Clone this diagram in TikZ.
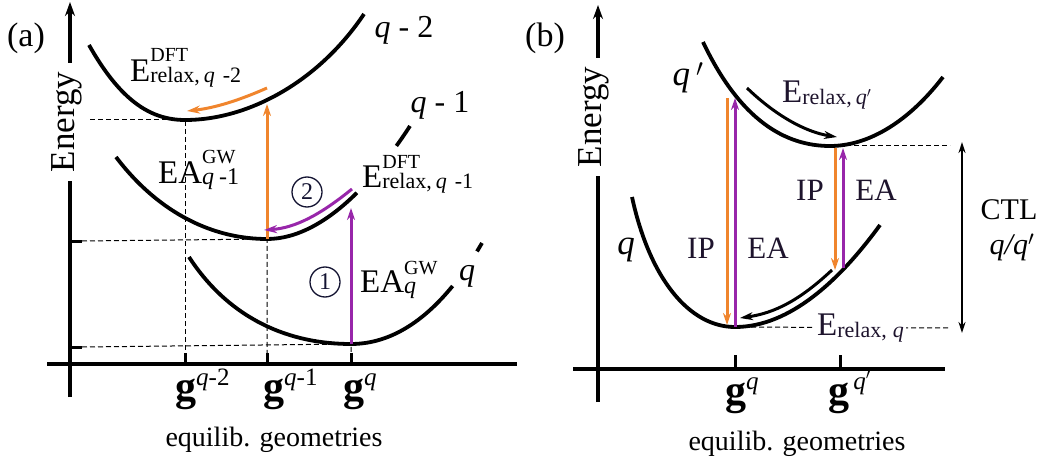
\documentclass[tikz,border=0pt]{standalone}
\usepackage{fontspec}
\setmainfont{Liberation Serif}
\usetikzlibrary{arrows.meta}
\definecolor{orng}{RGB}{240,133,45}
\definecolor{purp}{RGB}{152,38,170}
\definecolor{navy}{RGB}{20,20,50}
\definecolor{labc}{RGB}{30,20,45}
\newcommand\fs[1]{\fontsize{#1}{#1}\selectfont}
\begin{document}
\begin{tikzpicture}[x=1pt,y=-1pt,
 curve/.style={line width=3.8pt},
 axis/.style={line width=3.5pt},
 tickmark/.style={line width=3pt},
 guide/.style={line width=1pt, dash pattern=on 5pt off 3pt},
 vert/.style={line width=3pt, -{Stealth[length=12pt,width=8pt]}},
 relax/.style={line width=3pt, -{Stealth[length=13pt,width=8pt]}},
 lab/.style={inner sep=0pt, anchor=base west},
 axlab/.style={rotate=90, fill=white, inner xsep=9pt, inner ysep=1pt, font=\fs{35}},
 circ/.style={circle, draw=navy, line width=1.3pt, minimum size=30pt, inner sep=0pt, font=\fs{24}, text=navy}]
\useasboundingbox (0,0) rectangle (1051,465);

% ---------------- panel (a) ----------------
\coordinate (aYbot) at (70,397);
\coordinate (aYtop) at (70,2);
\coordinate (aXl) at (47,364);
\coordinate (aXr) at (517,364);
\coordinate (m2) at (185,120);
\coordinate (m1) at (267,239);
\coordinate (m0) at (351,344);

\draw[axis] (aXl) -- (aXr);
\draw[axis, -{Stealth[length=14pt,width=10pt]}] (aYbot) -- (aYtop);
\node[axlab] (enA) at (67,122) {Energy};

\draw[tickmark] (70,241) -- (82,241);
\draw[tickmark] (70,347) -- (82,347);
\draw[tickmark] (185,353) -- (185,364);
\draw[tickmark] (267,353) -- (267,364);
\draw[tickmark] (351,353) -- (351,364);

\draw[guide] (90,120) -- (m2) -- (185,353);
\draw[guide] (82,241) -- (m1) -- (267,353);
\draw[guide] (82,347) -- (m0) -- (351,353);

% curve q-2
\draw[curve] (89,45) .. controls (120,100) and (150,120) .. (m2) .. controls (250,120) and (320,80) .. (364,14);
% curve q-1 (interrupted by its label)
\draw[curve] (116,157) .. controls (160,215) and (215,239) .. (m1) .. controls (296.8,239) and (327.3,222.1) .. (356.9,192.8);
\draw[curve] (396.4,145.9) .. controls (401,139.6) and (405.5,132.9) .. (410,126);
% curve q (interrupted by its label)
\draw[curve] (189,257) .. controls (230,320) and (290,344) .. (m0) .. controls (384.9,344) and (419.4,326.8) .. (452.6,286.0);
\draw[curve] (477,251.4) .. controls (478.6,248.7) and (480.3,245.9) .. (482,243);

\draw[vert, orng] (m1) -- (267,104);
\draw[vert, purp] (m0) -- (351,208);
\draw[relax, orng] (267,88) .. controls (240,100) and (215,108) .. (187,111);
\draw[relax, purp] (352,189) .. controls (320,215) and (295,228) .. (264,230);

\node[circ] (c2) at (307,192) {2};
\node[circ] (c1) at (325,282) {1};

\node[lab] (lq2) at (130,82) {\fs{33}E\rlap{\raisebox{20pt}{\fs{20}DFT}}\raisebox{-1pt}{\fs{22}relax,\hspace{4pt}\textit{q}\hspace{8pt}-2}};
\node[lab] (lq1) at (362,188) {\fs{33}E\rlap{\raisebox{20pt}{\fs{20}DFT}}\raisebox{-1pt}{\fs{22}relax,\hspace{4pt}\textit{q}\hspace{8pt}-1}};
\node[lab] (eaq1) at (158,183) {\fs{33}EA\rlap{\raisebox{20pt}{\fs{20}GW}}\raisebox{-1pt}{\fs{24}\textit{q}\hspace{5pt}-1}};
\node[lab] (eaq0) at (360,292) {\fs{33}EA\rlap{\raisebox{18pt}{\fs{20}GW}}\raisebox{-1pt}{\fs{24}\textit{q}}};
\node[font=\fs{32}] (tq2) at (404,30) {\textit{q} - 2};
\node[font=\fs{32}] (tq1) at (440,105) {\textit{q} - 1};
\node[font=\fs{32}\itshape] (lq0) at (467,276) {q};

\node[lab] (g2) at (175,400) {{\fs{42}\bfseries g}\raisebox{15pt}{\fs{25}\textit{q}-2}};
\node[lab] (g1) at (263,400) {{\fs{42}\bfseries g}\raisebox{15pt}{\fs{25}\textit{q}-1}};
\node[lab] (g0) at (343,400) {{\fs{42}\bfseries g}\raisebox{15pt}{\fs{25}\textit{q}}};
\node[font=\fs{28}] (eqA) at (274,440) {equilib. geometries};
\node[font=\fs{34}] (pa) at (26,38) {(a)};

% ---------------- panel (b) ----------------
\coordinate (bYbot) at (598,402);
\coordinate (bYtop) at (598,5);
\coordinate (bXl) at (573,369);
\coordinate (bXr) at (945,369);
\coordinate (mqp) at (830,146);
\coordinate (mq) at (735,327);

\draw[axis] (bXl) -- (bXr);
\draw[axis, -{Stealth[length=14pt,width=10pt]}] (bYbot) -- (bYtop);
\node[axlab] (enB) at (594,117) {Energy};

\draw[tickmark] (735,355) -- (735,369);
\draw[tickmark] (840,355) -- (840,369);

\draw[curve] (703,42) .. controls (740,120) and (785,146) .. (mqp) .. controls (870,146) and (910,120) .. (943,77);
\draw[curve] (632,197) .. controls (650,280) and (690,327) .. (mq) .. controls (790,327) and (840,280) .. (880,225);

\draw[guide] (mqp) -- (950,146);
\draw[guide] (mq) -- (950,328);
\node[lab, fill=white, inner xsep=2pt, text=labc] (erq) at (815,335) {\fs{33}E\raisebox{-2pt}{\fs{22}relax,\hspace{6pt}\textit{q}}};

\draw[vert, orng] (727,98) -- (727,325);
\draw[vert, purp] (mq) -- (735,98);
\draw[vert, orng] (835,148) -- (835,270);
\draw[vert, purp] (843,268) -- (843,148);

\draw[relax, black] (747,88) .. controls (775,115) and (805,132) .. (837,137);
\draw[relax, black] (832,270) .. controls (800,300) and (775,313) .. (740,318);

\draw[line width=1.8pt, {Stealth[length=11pt,width=7pt]}-{Stealth[length=11pt,width=7pt]}] (962,142) -- (962,333);

\node[font=\fs{34}] (pb) at (545,38) {(b)};
\node[font=\fs{35}\itshape] (tqp) at (688,78) {q\,$'$};
\node[font=\fs{35}\itshape] (tq) at (626,250) {q};
\node[font=\fs{31}, text=labc] (ip1) at (701,248) {IP};
\node[font=\fs{31}, text=labc] (ea1) at (768,248) {EA};
\node[font=\fs{31}, text=labc] (ip2) at (810,190) {IP};
\node[font=\fs{31}, text=labc] (ea2) at (876,190) {EA};
\node[lab, text=labc] (erqp) at (782,103) {\fs{33}E\raisebox{-2pt}{\fs{22}relax,\hspace{4pt}\textit{q}$'$}};
\node[font=\fs{30}] (ctl) at (1009,210) {CTL};
\node[font=\fs{30}\itshape] (ctlq) at (1012,247) {q/q$'$};

\node[lab] (gq) at (725,404) {{\fs{42}\bfseries g}\raisebox{15pt}{\fs{25}\textit{q}}};
\node[lab] (gqp) at (828,404) {{\fs{42}\bfseries g}\raisebox{15pt}{\fs{25}\,\textit{q}$'$}};
\node[font=\fs{28}] (eqB) at (797,444) {equilib. geometries};
\end{tikzpicture}
\end{document}
